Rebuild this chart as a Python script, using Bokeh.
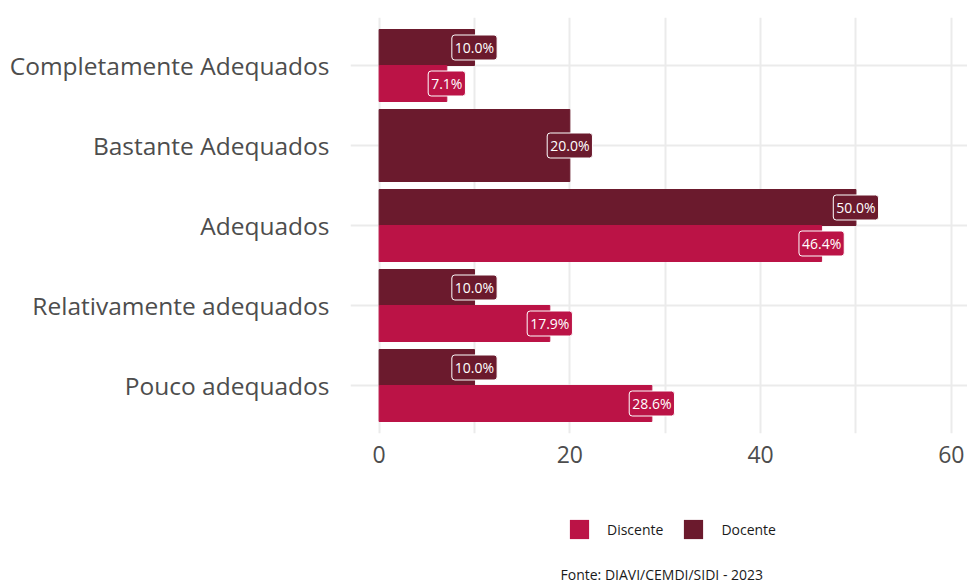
from bokeh.plotting import figure
from bokeh.layouts import column
from bokeh.models import (FixedTicker, Legend, LegendItem, Label, ColumnDataSource, Range1d)
from bokeh.core.properties import value
from bokeh.embed import file_html
from bokeh.resources import INLINE

categories = ["Completamente Adequados", "Bastante Adequados", "Adequados",
              "Relativamente adequados", "Pouco adequados"]
docente = [10.0, 20.0, 50.0, 10.0, 10.0]
discente = [7.1, None, 46.4, 17.9, 28.6]
series = ["Discente", "Docente"]
x_ticks = [0, 20, 40, 60]
grid_ticks = [0, 10, 20, 30, 40, 50, 60]
caption = "Fonte: DIAVI/CEMDI/SIDI - 2023"

C_DOC = "#6b1a2d"
C_DIS = "#bb1346"
FONT = "Open Sans"

n = len(categories)
pos = {c: n - i for i, c in enumerate(categories)}


def build(values, other, sign):
    ys, hs, xs, labels = [], [], [], []
    for c, v, o in zip(categories, values, other):
        if v is None:
            continue
        if o is None:
            ys.append(pos[c]); hs.append(0.9)
        else:
            ys.append(pos[c] + sign * 0.225); hs.append(0.45)
        xs.append(v); labels.append(f"{v:.1f}%")
    return ColumnDataSource(dict(y=ys, h=hs, x=xs, label=labels))


src_doc = build(docente, discente, +1)
src_dis = build(discente, docente, -1)

MAIN_H = 480
FRAME_LEFT = 350
p = figure(width=967, height=MAIN_H, x_range=Range1d(-3, 61.7), y_range=Range1d(0.4, 5.6),
           output_backend="svg", toolbar_location=None,
           min_border_left=FRAME_LEFT, min_border_right=0, min_border_top=17,
           min_border_bottom=MAIN_H - 433)
p.outline_line_color = None

r_doc = p.hbar(y="y", left=0, right="x", height="h", source=src_doc, color=C_DOC)
r_dis = p.hbar(y="y", left=0, right="x", height="h", source=src_dis, color=C_DIS)

for src, col in ((src_doc, C_DOC), (src_dis, C_DIS)):
    p.text(x="x", y="y", text="label", source=src, text_align="center", text_baseline="middle",
           text_color="white", text_font=value(FONT), text_font_size="14px",
           background_fill_color=col, border_line_color="white", border_line_width=1,
           padding=3, border_radius=3)

# axes
p.xaxis.ticker = FixedTicker(ticks=x_ticks)
p.yaxis.ticker = FixedTicker(ticks=[pos[c] for c in categories])
p.yaxis.major_label_overrides = {pos[c]: c for c in categories}
for ax in (p.xaxis[0], p.yaxis[0]):
    ax.axis_line_color = None
    ax.major_tick_line_color = None
    ax.minor_tick_line_color = None
    ax.major_label_text_font = FONT
    ax.major_label_text_color = "#4d4d4d"
p.xaxis.major_label_text_font_size = "23px"
p.yaxis.major_label_text_font_size = "24.5px"
p.xaxis.major_label_standoff = 6
p.yaxis.major_label_standoff = 15

p.xgrid.ticker = FixedTicker(ticks=grid_ticks)
p.ygrid.ticker = FixedTicker(ticks=[pos[c] for c in categories])
for g in (p.xgrid[0], p.ygrid[0]):
    g.grid_line_color = "#ebebeb"
    g.grid_line_width = 2

# legend + caption strip (its frame is aligned with the main frame's left edge).
# Its ranges lie outside all bars, so its renderers only feed the legend swatches.
LEG_H = 583 - MAIN_H
p2 = figure(width=967, height=LEG_H, x_range=Range1d(-3, -2), y_range=Range1d(-3, -2),
            output_backend="svg", toolbar_location=None,
            x_axis_location=None, y_axis_location=None, min_border=0)
p2.outline_line_color = None
p2.grid.visible = False
l_dis = p2.hbar(y="y", left=0, right="x", height="h", source=src_dis,
                fill_color=C_DIS, line_color=None)
l_doc = p2.hbar(y="y", left=0, right="x", height="h", source=src_doc,
                fill_color=C_DOC, line_color=None)

legend = Legend(items=[LegendItem(label=series[0], renderers=[l_dis]),
                       LegendItem(label=series[1], renderers=[l_doc])],
                orientation="horizontal",
                location=(567 - FRAME_LEFT, LEG_H - (541 - MAIN_H)),
                glyph_width=24, glyph_height=24, label_standoff=16, spacing=18,
                border_line_color=None, background_fill_alpha=0,
                label_text_font=FONT, label_text_font_size="14px", label_text_color="#1a1a1a",
                margin=0, padding=0)
p2.add_layout(legend)

p2.add_layout(Label(x=560 - FRAME_LEFT, y=LEG_H - (574 - MAIN_H), x_units="screen", y_units="screen",
                    text=caption, text_font=FONT, text_font_size="14px",
                    text_color="#1a1a1a", text_baseline="middle"))

open("out.html", "w").write(file_html(column(p, p2, spacing=0), INLINE))
